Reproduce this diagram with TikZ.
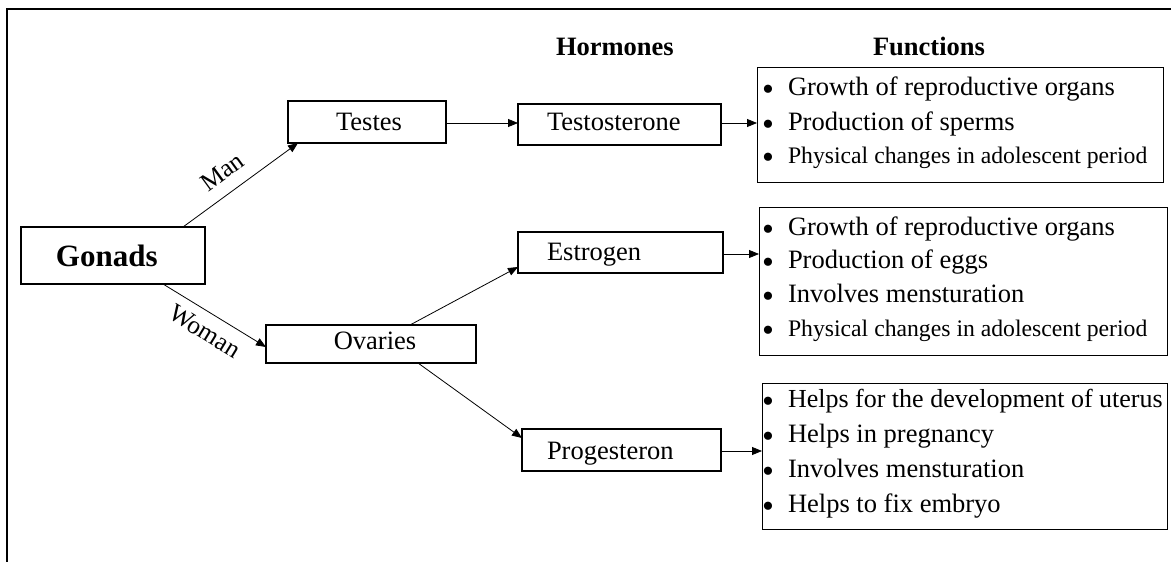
\documentclass[tikz,border=0pt]{standalone}
\usepackage{fontspec}
\setmainfont{Liberation Serif}
\usetikzlibrary{calc,arrows.meta}
\newcommand{\bigtxt}{\fontsize{26.5}{30}\selectfont}
\newcommand{\smalltxt}{\fontsize{23.7}{27}\selectfont}
\tikzset{
  hbox/.style={draw, line width=2pt, rectangle, inner sep=0pt, outer sep=0pt},
  fbox/.style={draw, line width=1pt, rectangle, inner sep=0pt, outer sep=0pt},
  txt/.style={inner sep=0pt, outer sep=0pt, anchor=base west, font=\bigtxt},
  stxt/.style={inner sep=0pt, outer sep=0pt, anchor=base west, font=\smalltxt},
  bul/.style={inner sep=0pt, outer sep=0pt, anchor=base, yshift=-5pt, font=\fontsize{34}{36}\selectfont},
  conn/.style={line width=0.8pt, -{Triangle[length=10pt,width=8pt]}},
  lbl/.style={inner sep=0pt, outer sep=0pt, font=\fontsize{25.5}{28}\selectfont},
  frame/.style={line width=1.2pt}
}
\begin{document}
\begin{tikzpicture}[x=1pt,y=-1pt]
\useasboundingbox (0,0) rectangle (1171,562);
% frame
\coordinate (ftr) at (1171,9);
\coordinate (ftl) at (7,9);
\coordinate (fbl) at (7,562);
\draw[frame] (ftr) -- (ftl) -- (fbl);

% headers
\node[txt, font=\bigtxt\bfseries] (hhead) at (556,55) {Hormones};
\node[txt, font=\bigtxt\bfseries] (fhead) at (873,55) {Functions};

% boxes
\node[hbox, line width=2.2pt, minimum width=184, minimum height=57] (gon) at (113,255.5) {};
\node[hbox, minimum width=158, minimum height=42] (tes) at (367,122) {};
\node[hbox, minimum width=210, minimum height=38] (ova) at (371,344) {};
\node[hbox, minimum width=203, minimum height=41] (tst) at (619.5,124.5) {};
\node[hbox, minimum width=205, minimum height=41] (est) at (620.5,252.5) {};
\node[hbox, minimum width=199, minimum height=42] (pro) at (621.5,450) {};
\node[fbox, minimum width=406, minimum height=115] (f1) at (960,124.5) {};
\node[fbox, minimum width=408, minimum height=148] (f2) at (963,281) {};
\node[fbox, minimum width=405, minimum height=146] (f3) at (964.5,456) {};

% box labels
\node[txt, font=\fontsize{31}{34}\selectfont\bfseries] (gont) at (56,266) {Gonads};
\node[txt, anchor=base] (test) at (369,130) {Testes};
\node[txt, anchor=base] (ovat) at (375,349) {Ovaries};
\node[txt] (tstt) at (547,130) {Testosterone};
\node[txt] (estt) at (547,260) {Estrogen};
\node[txt] (prot) at (547,459) {Progesteron};

% connectors
\draw[conn] ($(gon.north west)+(162,0)$) -- node[lbl, sloped, above=13pt, pos=0.45] (man) {Man} ($(tes.south west)+(10,0)$);
\draw[conn] ($(gon.south west)+(142,0)$) -- node[lbl, sloped, below=10pt, pos=0.5] (wom) {Woman} ($(ova.west)+(0,3)$);
\draw[conn] ($(tes.east)+(0,1)$) -- ($(tst.west)+(0,-1.5)$);
\draw[conn] ($(ova.north west)+(144,0)$) -- ($(est.west)+(0,14.5)$);
\draw[conn] ($(ova.south west)+(152,0)$) -- ($(pro.west)+(0,-12)$);
\draw[conn] ($(tst.east)+(0,-1.5)$) -- ($(f1.west)+(0,-1.5)$);
\draw[conn] ($(est.east)+(0,1.5)$) -- ($(f2.west)+(0,-27)$);
\draw[conn] ($(pro.east)+(0,1)$) -- ($(f3.west)+(0,-5)$);

% function box 1
\node[bul] (b11) at (768,95) {•};
\node[txt] (t11) at (788,95) {Growth of reproductive organs};
\node[bul] (b12) at (768,130) {•};
\node[txt] (t12) at (788,130) {Production of sperms};
\node[bul] (b13) at (768,163) {•};
\node[stxt] (t13) at (788,163) {Physical changes in adolescent period};

% function box 2
\node[bul] (b21) at (768,235) {•};
\node[txt] (t21) at (788,235) {Growth of reproductive organs};
\node[bul] (b22) at (768,268) {•};
\node[txt] (t22) at (788,268) {Production of eggs};
\node[bul] (b23) at (768,302) {•};
\node[txt] (t23) at (788,302) {Involves mensturation};
\node[bul] (b24) at (768,336) {•};
\node[stxt] (t24) at (788,336) {Physical changes in adolescent period};

% function box 3
\node[bul] (b31) at (768,407) {•};
\node[txt, font=\fontsize{26}{30}\selectfont] (t31) at (788,407) {Helps for the development of uterus};
\node[bul] (b32) at (768,442) {•};
\node[txt] (t32) at (788,442) {Helps in pregnancy};
\node[bul] (b33) at (768,477) {•};
\node[txt] (t33) at (788,477) {Involves mensturation};
\node[bul] (b34) at (768,512) {•};
\node[txt] (t34) at (788,512) {Helps to fix embryo};
\end{tikzpicture}
\end{document}
